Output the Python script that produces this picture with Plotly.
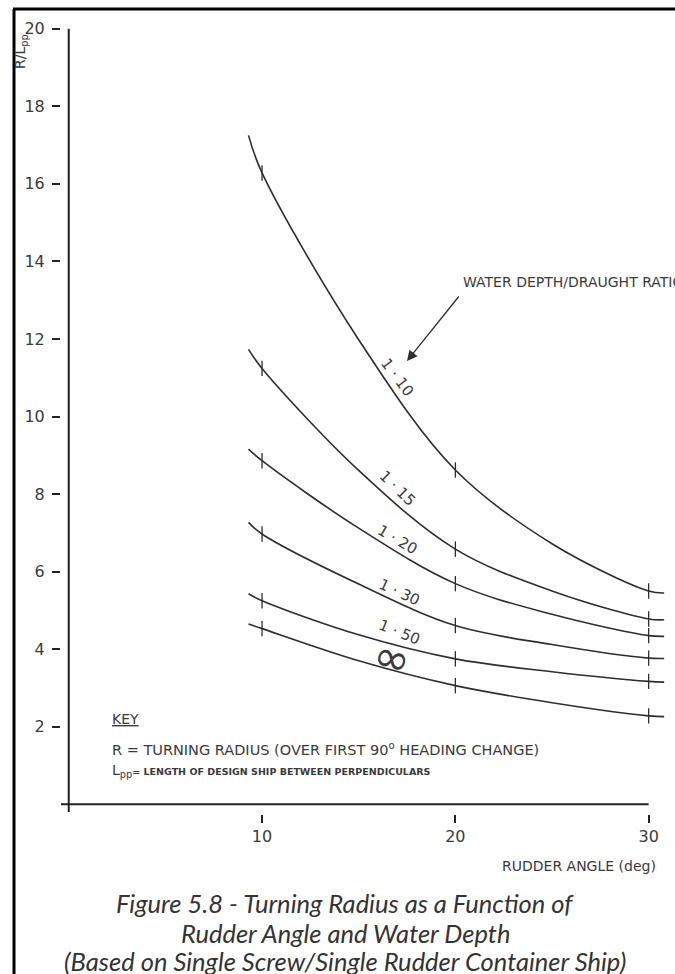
import plotly.graph_objects as go

# ---- data ----
rudder_angle = [9.3, 10, 15, 20, 25, 30, 30.8]
marker_angles = [10, 20, 30]
ratio_labels = ["1 · 10", "1 · 15", "1 · 20", "1 · 30", "1 · 50", "∞"]
r_1_10 = [17.25, 16.28, 11.98, 8.62, 6.72, 5.50, 5.45]
r_1_15 = [11.73, 11.24, 8.61, 6.58, 5.50, 4.78, 4.76]
r_1_20 = [9.16, 8.86, 7.12, 5.69, 4.90, 4.35, 4.33]
r_1_30 = [7.27, 6.97, 5.68, 4.61, 4.12, 3.77, 3.76]
r_1_50 = [5.43, 5.25, 4.37, 3.75, 3.42, 3.17, 3.15]
r_inf = [4.65, 4.53, 3.70, 3.06, 2.62, 2.28, 2.26]
series = [r_1_10, r_1_15, r_1_20, r_1_30, r_1_50, r_inf]
y_ticks = [2, 4, 6, 8, 10, 12, 14, 16, 18, 20]
x_ticks = [10, 20, 30]

# ---- layout geometry ----
W, H = 675, 974
L, R, T, B = 61, 7, 19, 160
PW, PH = W - L - R, H - T - B

def px(x):
    return (x - L) / PW

def py(y):
    return 1 - (y - T) / PH

INK = "#2e2e2e"
TXT = "#3a3a3a"
FONT = "DejaVu Sans"

fig = go.Figure()
for vals in series:
    fig.add_trace(go.Scatter(
        x=rudder_angle, y=vals, mode="lines",
        line=dict(color=INK, width=1.6, shape="spline", smoothing=1.0),
        hoverinfo="skip", showlegend=False))
    mk = [vals[rudder_angle.index(a)] for a in marker_angles]
    fig.add_trace(go.Scatter(
        x=marker_angles, y=mk, mode="markers",
        marker=dict(symbol="line-ns", size=11, line=dict(color=INK, width=1.3)),
        hoverinfo="skip", showlegend=False))

shapes = [
    # axis lines
    dict(type="line", xref="x", yref="y", x0=-0.4, x1=30, y0=0, y1=0,
         line=dict(color="#222", width=2)),
    dict(type="line", xref="x", yref="y", x0=0, x1=0, y0=-0.2, y1=20,
         line=dict(color="#222", width=2)),
    # frame of the scanned page
    dict(type="line", xref="paper", yref="paper", x0=px(14), x1=px(14),
         y0=py(9), y1=py(980), line=dict(color="#000", width=3)),
    dict(type="line", xref="paper", yref="paper", x0=px(13), x1=px(680),
         y0=py(9), y1=py(9), line=dict(color="#000", width=3)),
]

ann = []
def text(x, y, s, size=13, xanchor="center", angle=0, family=FONT, color=TXT):
    ann.append(dict(x=px(x), y=py(y), xref="paper", yref="paper", text=s,
                    showarrow=False, xanchor=xanchor, yanchor="middle",
                    textangle=angle, font=dict(family=family, size=size, color=color)))

# curve labels
label_pos = [(397, 377, 53, 15), (397, 488, 44, 15), (398, 540, 30, 15),
             (399, 592, 25, 15), (399, 632, 22, 15), (392, 657, 15, 44)]
for lab, (x, y, a, s) in zip(ratio_labels, label_pos):
    text(x, y, lab, size=s, angle=a)

# axis titles
text(21, 52, "R/L<sub>pp</sub>", size=14, angle=-90)
text(658, 866, "RUDDER ANGLE (deg)", size=14, xanchor="right")
# water depth note + arrow
text(461, 282, "WATER DEPTH/DRAUGHT RATIO", size=14, xanchor="left")
ann.append(dict(x=px(407), y=py(361), xref="paper", yref="paper", text="",
                showarrow=True, ax=53, ay=-66, arrowhead=2, arrowsize=1.6,
                arrowwidth=1.3, arrowcolor=INK))
# key
text(110, 719, "<u>KEY</u>", size=14, xanchor="left")
text(110, 749, "R = TURNING RADIUS (OVER FIRST 90<sup>o</sup> HEADING CHANGE)",
     size=14.5, xanchor="left")
text(110, 771, 'L<sub>pp</sub><span style="font-size:9.5px"><b>= LENGTH OF DESIGN SHIP '
     'BETWEEN PERPENDICULARS</b></span>', size=14, xanchor="left")
# caption
cap = ["Figure 5.8 - Turning Radius as a Function of",
       "Rudder Angle and Water Depth",
       "(Based on Single Screw/Single Rudder Container Ship)"]
for s, y in zip(cap, [903, 933, 961]):
    text(345, y, "<i>" + s + "</i>", size=25.5, family="Lato", color="#333")

fig.update_layout(
    width=W, height=H, margin=dict(l=L, r=R, t=T, b=B, autoexpand=False),
    paper_bgcolor="white", plot_bgcolor="white",
    shapes=shapes, annotations=ann, showlegend=False,
    xaxis=dict(range=[-0.4, 31], showgrid=False, zeroline=False, showline=False,
               tickmode="array", tickvals=x_ticks,
               ticks="outside", ticklen=8, tickwidth=1.5, tickcolor="#222",
               ticklabelstandoff=0,
               tickfont=dict(family=FONT, size=16, color=TXT)),
    yaxis=dict(range=[-0.25, 20.25], showgrid=False, zeroline=False, showline=False,
               tickmode="array", tickvals=y_ticks,
               ticks="outside", ticklen=8, tickwidth=1.5, tickcolor="#222",
               ticklabelstandoff=4,
               tickfont=dict(family=FONT, size=16, color=TXT)),
)
fig.write_html("out.html")
